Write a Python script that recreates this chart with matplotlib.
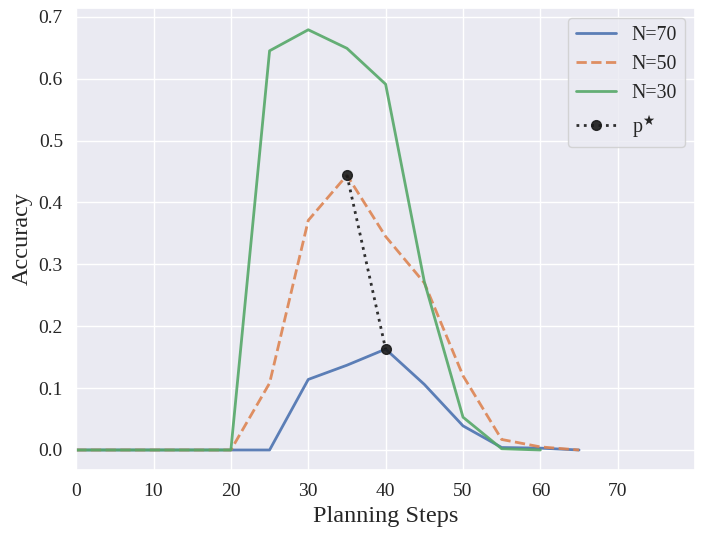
import matplotlib
matplotlib.use("Agg")
import matplotlib.pyplot as plt
import seaborn as sns

sns.set_theme(style="darkgrid")
plt.rcParams['font.family'] = ['Liberation Serif', 'DejaVu Serif']
plt.rcParams['mathtext.fontset'] = 'stix'

steps_70 = [0, 5, 10, 15, 20, 25, 30, 35, 40, 45, 50, 55, 60, 65]
acc_70 = [0, 0, 0, 0, 0, 0, 0.114, 0.137, 0.163, 0.106, 0.039, 0.004, 0.003, 0.0]
steps_50 = [0, 5, 10, 15, 20, 25, 30, 35, 40, 45, 50, 55, 60, 65]
acc_50 = [0, 0, 0, 0, 0, 0.108, 0.371, 0.444, 0.345, 0.270, 0.120, 0.017, 0.005, 0.0]
steps_30 = [0, 5, 10, 15, 20, 25, 30, 35, 40, 45, 50, 55, 60]
acc_30 = [0, 0, 0, 0, 0, 0.645, 0.679, 0.649, 0.591, 0.272, 0.053, 0.002, 0.0]
pstar_x = [35, 40]
pstar_y = [0.444, 0.163]

fig, ax = plt.subplots(figsize=(7.05, 5.4), dpi=100)
pal = sns.color_palette("deep")
ax.plot(steps_70, acc_70, color=pal[0], lw=2, alpha=0.9, label="N=70")
ax.plot(steps_50, acc_50, color=pal[1], lw=2, ls="--", alpha=0.9, label="N=50")
ax.plot(steps_30, acc_30, color=pal[2], lw=2, alpha=0.9, label="N=30")
ax.plot(pstar_x, pstar_y, color="k", lw=2, ls=":", marker="o", markersize=7,
        alpha=0.9, label=r"p$^{\bigstar}$")

ax.set_xlim(0, 80)
ax.set_ylim(-0.032, 0.714)
ax.set_xticks([0, 10, 20, 30, 40, 50, 60, 70])
ax.set_yticks([0.0, 0.1, 0.2, 0.3, 0.4, 0.5, 0.6, 0.7])
ax.tick_params(labelsize=14)
ax.set_xlabel("Planning Steps", fontsize=17.5)
ax.set_ylabel("Accuracy", fontsize=17.5)
ax.legend(loc="upper right", fontsize=14.3)
fig.subplots_adjust(left=0.108, right=0.986, top=0.985, bottom=0.13)
fig.savefig("out.png", dpi=100)
